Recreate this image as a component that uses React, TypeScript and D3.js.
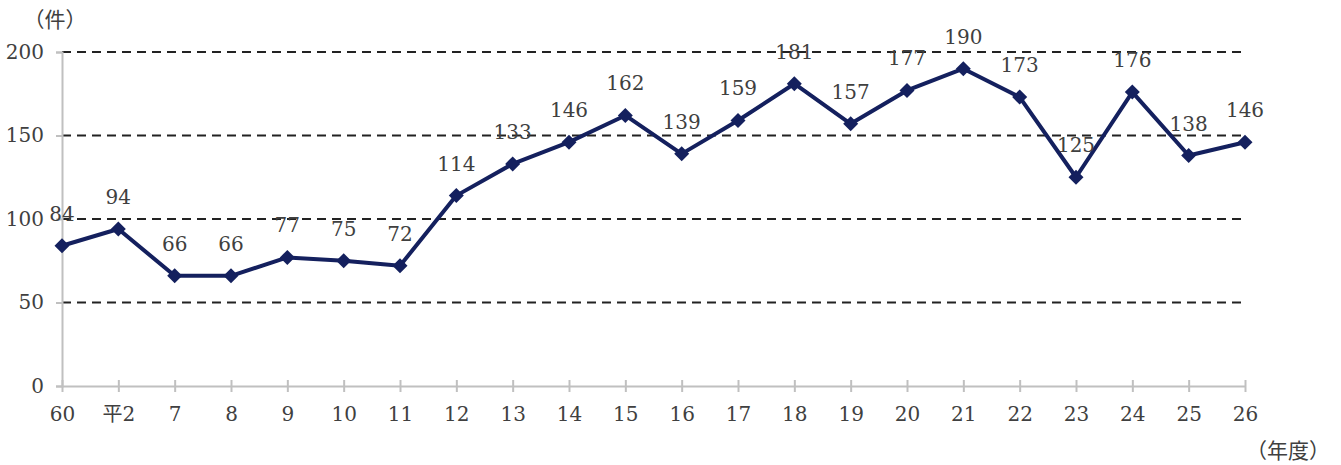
import React, { useEffect, useRef } from 'react';
import * as d3 from 'd3';

const years = ['60', '平2', '7', '8', '9', '10', '11', '12', '13', '14', '15', '16', '17', '18', '19', '20', '21', '22', '23', '24', '25', '26'];
const counts = [84, 94, 66, 66, 77, 75, 72, 114, 133, 146, 162, 139, 159, 181, 157, 177, 190, 173, 125, 176, 138, 146];
const yTicks = [0, 50, 100, 150, 200];

const FONT = '"DejaVu Serif", "Liberation Serif", "Noto Sans CJK JP", serif';
const TEXT = '#404040';
const NAVY = '#14205e';
const SIZE = 20;

const App = () => {
    const svgRef = useRef<SVGSVGElement>(null);

    useEffect(() => {
        const svg = d3.select(svgRef.current);
        svg.selectAll('*').remove();

        const x = d3.scalePoint<string>().domain(years).range([62, 1245]);
        const y = d3.scaleLinear().domain([0, 200]).range([386, 52]);

        // dashed grid
        svg.append('g')
            .selectAll('line')
            .data(yTicks.filter(t => t > 0))
            .enter().append('line')
            .attr('x1', 62).attr('x2', 1245)
            .attr('y1', d => y(d)).attr('y2', d => y(d))
            .attr('stroke', '#222')
            .attr('stroke-width', 1.8)
            .attr('stroke-dasharray', '9,6');

        // y axis
        const yAxis = svg.append('g')
            .attr('transform', 'translate(62,0)')
            .call(d3.axisLeft(y).tickValues(yTicks).tickSize(6).tickPadding(12));
        yAxis.attr('font-family', FONT).attr('font-size', SIZE);
        yAxis.select('.domain').attr('stroke', '#c0c0c0').attr('stroke-width', 2);
        yAxis.selectAll('.tick line').attr('stroke', '#c0c0c0').attr('stroke-width', 2);
        yAxis.selectAll('.tick text').attr('fill', TEXT);

        // x axis
        const xAxis = svg.append('g')
            .attr('transform', 'translate(0,386)')
            .call(d3.axisBottom(x).tickSizeInner(6).tickSizeOuter(0).tickPadding(15));
        xAxis.attr('font-family', FONT).attr('font-size', SIZE);
        xAxis.select('.domain').attr('stroke', '#c0c0c0').attr('stroke-width', 2);
        xAxis.selectAll('.tick line')
            .attr('y1', -6)
            .attr('stroke', '#c0c0c0').attr('stroke-width', 2);
        xAxis.selectAll('.tick text').attr('fill', TEXT);

        // line
        const line = d3.line<number>()
            .x((_, i) => x(years[i]) as number)
            .y(d => y(d));
        svg.append('path')
            .datum(counts)
            .attr('d', line)
            .attr('fill', 'none')
            .attr('stroke', NAVY)
            .attr('stroke-width', 4)
            .attr('stroke-linejoin', 'round');

        // diamond markers
        svg.append('g')
            .selectAll('path')
            .data(counts)
            .enter().append('path')
            .attr('d', 'M0,-7.5L7.5,0L0,7.5L-7.5,0Z')
            .attr('transform', (d, i) => `translate(${x(years[i])},${y(d)})`)
            .attr('fill', NAVY);

        // value labels
        svg.append('g')
            .selectAll('text')
            .data(counts)
            .enter().append('text')
            .attr('x', (d, i) => x(years[i]) as number)
            .attr('y', d => y(d) - 25)
            .attr('text-anchor', 'middle')
            .attr('fill', TEXT)
            .attr('font-family', FONT)
            .attr('font-size', SIZE)
            .text(d => d);

        svg.append('text')
            .attr('x', 55).attr('y', 27)
            .attr('text-anchor', 'middle')
            .attr('fill', TEXT)
            .attr('font-family', FONT)
            .attr('font-size', 21)
            .text('（件）');

        svg.append('text')
            .attr('x', 1288).attr('y', 458)
            .attr('text-anchor', 'middle')
            .attr('fill', TEXT)
            .attr('font-family', FONT)
            .attr('font-size', 21)
            .text('（年度）');
    }, []);

    return (
        <svg ref={svgRef} width={1341} height={465}
            style={{ position: 'absolute', left: 0, top: 0, background: '#fff' }} />
    );
};

export default App;
